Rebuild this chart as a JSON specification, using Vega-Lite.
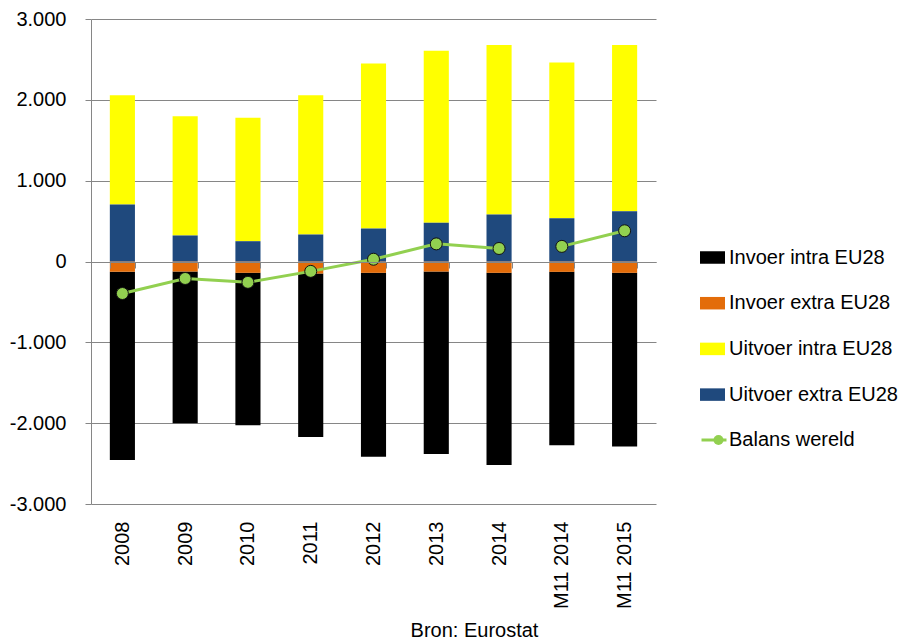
{
  "$schema": "https://vega.github.io/schema/vega-lite/v6.json",
  "autosize": {"type": "none"},
  "padding": {"left": 91, "top": 19, "right": 251, "bottom": 137},
  "width": 565,
  "height": 485,
  "background": "white",
  "config": {
    "view": {"stroke": null},
    "font": "Liberation Sans, Arial, sans-serif"
  },
  "datasets": {
    "bars": [
      {"jaar": "2008", "serie": "Invoer intra EU28", "waarde": -2327},
      {"jaar": "2008", "serie": "Invoer extra EU28", "waarde": -128},
      {"jaar": "2008", "serie": "Uitvoer intra EU28", "waarde": 1353},
      {"jaar": "2008", "serie": "Uitvoer extra EU28", "waarde": 705},
      {"jaar": "2009", "serie": "Invoer intra EU28", "waarde": -1877},
      {"jaar": "2009", "serie": "Invoer extra EU28", "waarde": -124},
      {"jaar": "2009", "serie": "Uitvoer intra EU28", "waarde": 1476},
      {"jaar": "2009", "serie": "Uitvoer extra EU28", "waarde": 322},
      {"jaar": "2010", "serie": "Invoer intra EU28", "waarde": -1886},
      {"jaar": "2010", "serie": "Invoer extra EU28", "waarde": -140},
      {"jaar": "2010", "serie": "Uitvoer intra EU28", "waarde": 1527},
      {"jaar": "2010", "serie": "Uitvoer extra EU28", "waarde": 251},
      {"jaar": "2011", "serie": "Invoer intra EU28", "waarde": -2021},
      {"jaar": "2011", "serie": "Invoer extra EU28", "waarde": -149},
      {"jaar": "2011", "serie": "Uitvoer intra EU28", "waarde": 1724},
      {"jaar": "2011", "serie": "Uitvoer extra EU28", "waarde": 334},
      {"jaar": "2012", "serie": "Invoer intra EU28", "waarde": -2277},
      {"jaar": "2012", "serie": "Invoer extra EU28", "waarde": -140},
      {"jaar": "2012", "serie": "Uitvoer intra EU28", "waarde": 2042},
      {"jaar": "2012", "serie": "Uitvoer extra EU28", "waarde": 408},
      {"jaar": "2013", "serie": "Invoer intra EU28", "waarde": -2256},
      {"jaar": "2013", "serie": "Invoer extra EU28", "waarde": -124},
      {"jaar": "2013", "serie": "Uitvoer intra EU28", "waarde": 2128},
      {"jaar": "2013", "serie": "Uitvoer extra EU28", "waarde": 479},
      {"jaar": "2014", "serie": "Invoer intra EU28", "waarde": -2376},
      {"jaar": "2014", "serie": "Invoer extra EU28", "waarde": -140},
      {"jaar": "2014", "serie": "Uitvoer intra EU28", "waarde": 2095},
      {"jaar": "2014", "serie": "Uitvoer extra EU28", "waarde": 582},
      {"jaar": "M11 2014", "serie": "Invoer intra EU28", "waarde": -2145},
      {"jaar": "M11 2014", "serie": "Invoer extra EU28", "waarde": -128},
      {"jaar": "M11 2014", "serie": "Uitvoer intra EU28", "waarde": 1927},
      {"jaar": "M11 2014", "serie": "Uitvoer extra EU28", "waarde": 536},
      {"jaar": "M11 2015", "serie": "Invoer intra EU28", "waarde": -2150},
      {"jaar": "M11 2015", "serie": "Invoer extra EU28", "waarde": -140},
      {"jaar": "M11 2015", "serie": "Uitvoer intra EU28", "waarde": 2054},
      {"jaar": "M11 2015", "serie": "Uitvoer extra EU28", "waarde": 623}
    ],
    "balans": [
      {"jaar": "2008", "groep": "jaren", "reeks": "Balans wereld", "balans": -396},
      {"jaar": "2009", "groep": "jaren", "reeks": "Balans wereld", "balans": -210},
      {"jaar": "2010", "groep": "jaren", "reeks": "Balans wereld", "balans": -258},
      {"jaar": "2011", "groep": "jaren", "reeks": "Balans wereld", "balans": -122},
      {"jaar": "2012", "groep": "jaren", "reeks": "Balans wereld", "balans": 28},
      {"jaar": "2013", "groep": "jaren", "reeks": "Balans wereld", "balans": 218},
      {"jaar": "2014", "groep": "jaren", "reeks": "Balans wereld", "balans": 161},
      {"jaar": "M11 2014", "groep": "m11", "reeks": "Balans wereld", "balans": 187},
      {"jaar": "M11 2015", "groep": "m11", "reeks": "Balans wereld", "balans": 380}
    ]
  },
  "encoding": {
    "x": {
      "field": "jaar",
      "type": "nominal",
      "sort": ["2008", "2009", "2010", "2011", "2012", "2013", "2014", "M11 2014", "M11 2015"],
      "scale": {"paddingInner": 0.6, "paddingOuter": 0.3},
      "axis": {
        "orient": "bottom",
        "offset": -242,
        "zindex": 1,
        "grid": false,
        "tickBand": "extent",
        "tickSize": 6,
        "tickColor": "#868686",
        "domainColor": "#868686",
        "labelAngle": -90,
        "labelPadding": 253,
        "labelFontSize": 20,
        "labelColor": "#000000",
        "title": "Bron: Eurostat",
        "titleFontSize": 20,
        "titleFontWeight": "normal",
        "titleColor": "#000000",
        "titleAlign": "center",
        "titleBaseline": "alphabetic",
        "titleX": 383,
        "titleY": 374
      }
    }
  },
  "layer": [
    {
      "data": {"name": "bars"},
      "mark": {"type": "bar"},
      "encoding": {
        "y": {
          "field": "waarde",
          "type": "quantitative",
          "stack": "zero",
          "scale": {"domain": [-3000, 3000], "nice": false},
          "axis": {
            "title": null,
            "values": [-3000, -2000, -1000, 0, 1000, 2000, 3000],
            "grid": true,
            "gridColor": "#868686",
            "domainColor": "#868686",
            "tickColor": "#868686",
            "tickSize": 6,
            "labelPadding": 19,
            "labelFontSize": 20,
            "labelColor": "#000000",
            "labelExpr": "(datum.value < 0 ? '-' : '') + replace(format(abs(datum.value), ','), ',', '.')"
          }
        },
        "color": {
          "field": "serie",
          "type": "nominal",
          "scale": {
            "domain": ["Invoer intra EU28", "Invoer extra EU28", "Uitvoer intra EU28", "Uitvoer extra EU28"],
            "range": ["#000000", "#e36c09", "#ffff00", "#1f497d"]
          },
          "legend": {
            "title": null,
            "orient": "none",
            "legendX": 609,
            "legendY": 226,
            "padding": 0,
            "symbolType": "M-1,-0.5H1V0.5H-1Z",
            "symbolSize": 625,
            "symbolStrokeWidth": 0,
            "labelFontSize": 20,
            "labelColor": "#000000",
            "labelOffset": 4,
            "labelLimit": 300,
            "rowPadding": 22.7
          }
        },
        "order": {"field": "serie", "sort": "ascending"}
      }
    },
    {
      "data": {"name": "balans"},
      "mark": {"type": "line", "strokeWidth": 3},
      "encoding": {
        "y": {"field": "balans", "type": "quantitative"},
        "detail": {"field": "groep", "type": "nominal"},
        "stroke": {
          "field": "reeks",
          "type": "nominal",
          "scale": {"range": ["#92d050"]},
          "legend": {
            "title": null,
            "orient": "none",
            "legendX": 609,
            "legendY": 407,
            "padding": 0,
            "symbolType": "stroke",
            "symbolSize": 625,
            "symbolStrokeWidth": 3,
            "labelFontSize": 20,
            "labelColor": "#000000",
            "labelOffset": 1,
            "labelLimit": 300
          }
        }
      }
    },
    {
      "data": {"name": "balans"},
      "mark": {"type": "point", "filled": true, "fill": "#92d050", "stroke": "#111111", "strokeWidth": 1, "size": 144, "opacity": 1},
      "encoding": {
        "y": {"field": "balans", "type": "quantitative"},
        "shape": {
          "field": "reeks",
          "type": "nominal",
          "scale": {"domain": ["Balans wereld"], "range": ["circle"]},
          "legend": {
            "title": null,
            "orient": "none",
            "legendX": 617.5,
            "legendY": 411,
            "padding": 0,
            "symbolSize": 100,
            "symbolFillColor": "#92d050",
            "symbolStrokeColor": "#111111",
            "symbolStrokeWidth": 1,
            "labelFontSize": 20,
            "labelExpr": "''"
          }
        }
      }
    }
  ]
}
